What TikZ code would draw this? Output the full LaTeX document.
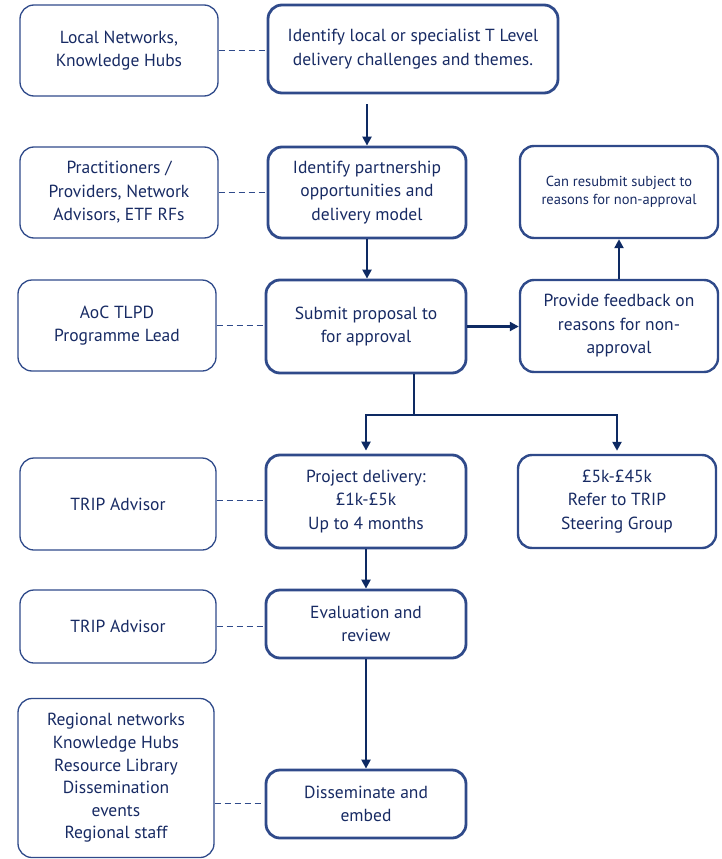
\documentclass[tikz,border=0pt]{standalone}
\usepackage{fontspec}
\setmainfont{PT Sans}
\usepackage{tikz}
\usetikzlibrary{arrows.meta,calc,positioning}
\definecolor{navy}{HTML}{0E2A63}
\definecolor{boxblue}{HTML}{2F4A8A}
\definecolor{txtblue}{HTML}{172A63}

\begin{document}
\begin{tikzpicture}[x=1pt,y=-1pt,font=\fontsize{17.5}{23.5}\selectfont,text=txtblue,
source/.style={draw=boxblue, line width=1.3pt, rounded corners=14pt, align=center, minimum width=198pt, minimum height=91pt, inner sep=2pt},
stepbox/.style={draw=boxblue, line width=2.8pt, rounded corners=14pt, align=center, minimum width=200pt, minimum height=92pt, inner sep=2pt},
sidebox/.style={stepbox, line width=2.4pt, minimum width=198pt},
link/.style={draw=boxblue, line width=1pt, dash pattern=on 6pt off 4pt},
flow/.style={draw=navy, line width=2.4pt, -{Triangle[length=9pt,width=9pt]}}]

    \useasboundingbox (0,0) rectangle (721,859);

    % sources on the left
    \node[source] (local) at (119,50.5) {Local Networks,\\Knowledge Hubs};
    \node[source] (practitioners) at (119,192.5) {Practitioners /\\Providers, Network\\Advisors, ETF RFs};
    \node[source] (aoc) at (117,325.5) {AoC TLPD\\Programme Lead};
    \node[source, minimum width=196pt, minimum height=92pt] (tripA) at (118,504) {TRIP Advisor};
    \node[source, minimum width=196pt, minimum height=73pt] (tripB) at (118,626.5) {TRIP Advisor};
    \node[source, minimum width=196pt, minimum height=159pt, font=\fontsize{17.5}{22.6}\selectfont] (regional) at (116,778)
        {Regional networks\\Knowledge Hubs\\Resource Library\\Dissemination\\events\\Regional staff};

    % main steps
    \node[stepbox, minimum width=290pt, minimum height=88pt] (identify) at (413,49) {Identify local or specialist T Level\\delivery challenges and themes.};
    \node[stepbox, minimum width=198pt, minimum height=91pt] (partnership) at (367,192.5) {Identify partnership\\opportunities and\\delivery model};
    \node[stepbox, minimum height=93pt] (submit) at (366,326.5) {Submit proposal to\\for approval};
    \node[stepbox, minimum height=93pt] (delivery) at (366,501.5) {Project delivery:\\£1k-£5k\\Up to 4 months};
    \node[stepbox, minimum height=68pt] (evaluation) at (366,624) {Evaluation and\\review};
    \node[stepbox, minimum height=68pt] (disseminate) at (366,804) {Disseminate and\\embed};

    % right hand side
    \node[sidebox, font=\fontsize{14.5}{17.5}\selectfont] (resubmit) at (619,192) {Can resubmit subject to\\reasons for non-approval};
    \node[sidebox] (feedback) at (619,326) {Provide feedback on\\reasons for non-\\approval};
    \node[sidebox, minimum height=93pt] (steering) at (617,501.5) {£5k-£45k\\Refer to TRIP\\Steering Group};

    % dashed links
    \draw[link] (local.east) -- (local.east -| identify.west);
    \draw[link] (practitioners.east) -- (practitioners.east -| partnership.west);
    \draw[link] (aoc.east) -- (aoc.east -| submit.west);
    \draw[link] ([yshift=4pt]tripA.east) -- ([yshift=4pt]tripA.east -| delivery.west);
    \draw[link] (tripB.east) -- (tripB.east -| evaluation.west);
    \draw[link] ([yshift=-25pt]regional.east) -- ([yshift=-25pt]regional.east -| disseminate.west);

    % flow
    \draw[flow] ([yshift=-10pt]identify.south -| partnership.north) -- (partnership.north);
    \draw[flow] (partnership.south) -- (partnership.south |- submit.north);
    \draw[flow] (submit.east) -- (submit.east -| feedback.west);
    \draw[flow] (feedback.north) -- (resubmit.south);
    \coordinate (fork) at (414,415);
    \draw[navy, line width=2.4pt] (submit.south -| fork) -- (fork);
    \draw[flow] (fork) -| ([yshift=3pt]delivery.north);
    \draw[flow] (fork) -| ([yshift=3pt]steering.north);
    \draw[flow] (delivery.south) -- (evaluation.north);
    \draw[flow] (evaluation.south) -- (disseminate.north);
\end{tikzpicture}
\end{document}
